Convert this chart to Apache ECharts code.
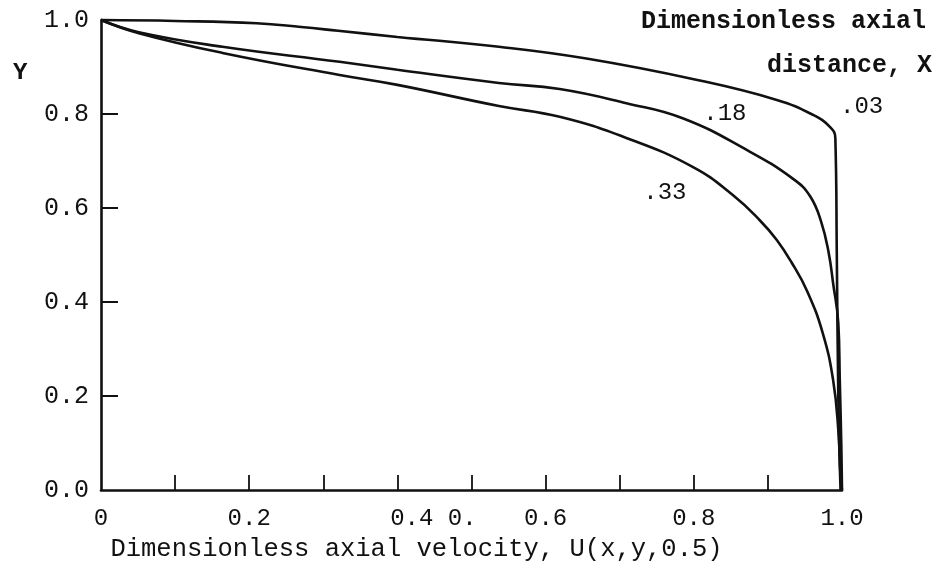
<!DOCTYPE html>
<html>
<head>
<meta charset="utf-8">
<script src="https://cdn.jsdelivr.net/npm/echarts@6/dist/echarts.min.js"></script>
<style>html,body{margin:0;padding:0;background:#fff}#c{width:943px;height:568px}</style>
</head>
<body>
<div id="c"></div>
<script>
// Dimensionless axial velocity U (x) vs Y, for three axial distances X
const curveNames = ['.03', '.18', '.33'];
const u03 = [0, 0.10, 0.21, 0.27, 0.32, 0.40, 0.537, 0.655, 0.80, 0.912, 0.961, 0.984, 0.991, 0.993, 0.995, 0.998];
const y03 = [1.0, 0.998, 0.993, 0.985, 0.977, 0.964, 0.943, 0.918, 0.874, 0.83, 0.798, 0.772, 0.749, 0.5, 0.2, 0.0];
const u18 = [0, 0.051, 0.164, 0.322, 0.40, 0.537, 0.619, 0.709, 0.785, 0.872, 0.934, 0.957, 0.972, 0.982, 0.988, 0.995, 0.997, 0.999, 1.0];
const y18 = [1.0, 0.974, 0.943, 0.911, 0.894, 0.866, 0.853, 0.823, 0.791, 0.723, 0.662, 0.625, 0.57, 0.505, 0.44, 0.355, 0.234, 0.1, 0.0];
const u33 = [0, 0.051, 0.164, 0.322, 0.40, 0.537, 0.619, 0.709, 0.799, 0.853, 0.889, 0.912, 0.932, 0.953, 0.974, 0.988, 0.995, 0.998, 1.0];
const y33 = [1.0, 0.972, 0.93, 0.883, 0.862, 0.817, 0.794, 0.749, 0.687, 0.627, 0.574, 0.532, 0.484, 0.423, 0.334, 0.234, 0.128, 0.03, 0.0];
// curve label anchor points (data units) and pixel nudges
const labelU = [0.99, 0.842, 0.761];
const labelY = [0.815, 0.800, 0.632];
const labelNudge = [[27, 0], [0, 0], [0, 0]];
const xTickValues = [0.1, 0.2, 0.3, 0.4, 0.5, 0.6, 0.7, 0.8, 0.9];
const xLabelValues = [0, 0.2, 0.4, 0.6, 0.8, 1.0];
const xLabelTexts = ['0', '0.2', '     0.4 0.', '0.6', '0.8', '1.0'];
const yTickValues = [0.2, 0.4, 0.6, 0.8];
const yLabelValues = [0, 0.2, 0.4, 0.6, 0.8, 1.0];

const FONT = "'Liberation Mono','DejaVu Sans Mono',monospace";
const INK = '#111';
const curvesU = [u03, u18, u33];
const curvesY = [y03, y18, y33];

const series = curveNames.map((n, i) => ({
  type: 'line',
  name: n,
  data: curvesU[i].map((u, k) => [u, curvesY[i][k]]),
  showSymbol: false,
  symbol: 'none',
  smooth: 0.45,
  lineStyle: { color: INK, width: 2.6 },
  clip: false,
  markPoint: {
    symbol: 'circle',
    symbolSize: 0,
    itemStyle: { color: 'rgba(0,0,0,0)' },
    data: [{ coord: [labelU[i], labelY[i]], value: n }],
    label: { show: true, position: 'inside', offset: labelNudge[i], formatter: n, color: INK, fontFamily: FONT, fontSize: 24 }
  },
  animation: false
}));

const chart = echarts.init(document.getElementById('c'));
chart.setOption({
  animation: false,
  backgroundColor: '#fff',
  title: [
    { text: 'Dimensionless axial', right: 12, top: 4, textStyle: { fontFamily: FONT, fontSize: 25, fontWeight: 'bold', color: INK } },
    { text: 'distance, X', right: 6, top: 48, textStyle: { fontFamily: FONT, fontSize: 25, fontWeight: 'bold', color: INK } },
    { text: 'Y', left: 8, top: 56, textStyle: { fontFamily: FONT, fontSize: 24, fontWeight: 'bold', color: INK } }
  ],
  grid: { left: 101, right: 101, top: 20, bottom: 78, containLabel: false },
  xAxis: {
    type: 'value', min: 0, max: 1, interval: 0.1,
    splitLine: { show: false },
    axisLine: { lineStyle: { color: INK, width: 2.6 } },
    axisTick: { inside: true, length: 15, customValues: xTickValues, lineStyle: { color: INK, width: 1.8 } },
    axisLabel: {
      customValues: xLabelValues,
      margin: 17, color: INK, fontFamily: FONT, fontSize: 24,
      formatter: v => { const i = xLabelValues.findIndex(x => Math.abs(x - v) < 1e-6); return i >= 0 ? xLabelTexts[i] : ''; }
    },
    name: 'Dimensionless axial velocity, U(x,y,0.5)',
    nameLocation: 'middle', nameGap: 46,
    nameTextStyle: { fontFamily: FONT, fontSize: 25.5, color: INK, padding: [0, 110, 0, 0] }
  },
  yAxis: {
    type: 'value', min: 0, max: 1, interval: 0.2,
    splitLine: { show: false },
    axisLine: { show: true, lineStyle: { color: INK, width: 2.6 } },
    axisTick: { show: true, inside: true, length: 17, customValues: yTickValues, lineStyle: { color: INK, width: 2 } },
    axisLabel: { customValues: yLabelValues, margin: 12, color: INK, fontFamily: FONT, fontSize: 25, formatter: v => v.toFixed(1) }
  },
  series: series
});
</script>
</body>
</html>
